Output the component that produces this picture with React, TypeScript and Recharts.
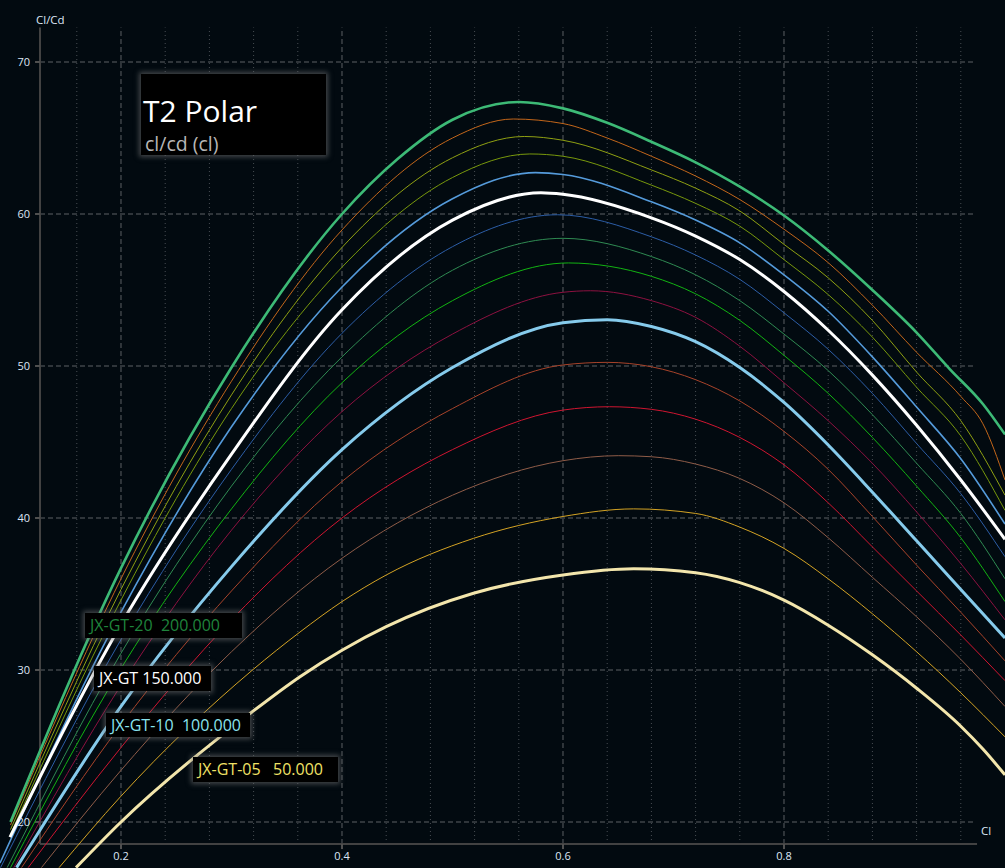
import { LineChart, Line, XAxis, YAxis, ReferenceLine } from 'recharts'

type Pt = [number, number]

const re200: Pt[] = [[0.1, 20.0], [0.2, 36.7], [0.3, 49.9], [0.4, 60.0], [0.45, 63.6], [0.5, 66.2], [0.56, 67.37], [0.6, 66.95], [0.64, 66.0], [0.68, 64.75], [0.72, 63.4], [0.76, 61.8], [0.8, 59.9], [0.84, 57.6], [0.88, 55.0], [0.92, 52.2], [0.95, 49.8], [0.98, 47.5], [1.0, 45.5]]
const re190: Pt[] = [[0.1, 19.8], [0.2, 36.0], [0.3, 49.0], [0.4, 58.95], [0.5, 65.0], [0.555, 66.25], [0.6, 65.95], [0.64, 65.0], [0.68, 63.8], [0.72, 62.5], [0.76, 60.95], [0.8, 59.0], [0.84, 56.8], [0.88, 54.0], [0.92, 50.9], [0.96, 48.0], [0.98, 46.2], [1.0, 42.5]]
const re180: Pt[] = [[0.1, 19.5], [0.2, 35.3], [0.3, 48.1], [0.4, 57.8], [0.5, 63.7], [0.565, 65.1], [0.6, 64.85], [0.68, 62.9], [0.72, 61.7], [0.76, 60.2], [0.8, 58.0], [0.84, 55.8], [0.88, 53.0], [0.92, 49.6], [0.96, 46.4], [1.0, 41.5]]
const re170: Pt[] = [[0.1, 19.2], [0.2, 34.6], [0.3, 47.2], [0.4, 56.5], [0.5, 62.4], [0.57, 63.95], [0.6, 63.8], [0.68, 61.9], [0.72, 60.7], [0.76, 59.2], [0.8, 57.0], [0.84, 54.7], [0.88, 51.9], [0.92, 48.6], [0.96, 45.4], [1.0, 40.5]]
const re160: Pt[] = [[0.0905, 17.3], [0.2, 33.8], [0.3, 46.0], [0.4, 55.2], [0.5, 61.0], [0.575, 62.72], [0.6, 62.6], [0.68, 60.8], [0.72, 59.6], [0.76, 58.1], [0.8, 56.0], [0.84, 53.6], [0.88, 50.6], [0.92, 47.3], [0.96, 43.9], [1.0, 39.6]]
const re150: Pt[] = [[0.0995, 19.0], [0.2, 33.0], [0.3, 44.2], [0.4, 53.7], [0.5, 59.6], [0.58, 61.4], [0.6, 61.3], [0.68, 59.75], [0.72, 58.55], [0.76, 57.0], [0.8, 54.9], [0.84, 52.35], [0.88, 49.4], [0.92, 46.1], [0.96, 42.5], [1.0, 38.6]]
const re140: Pt[] = [[0.091, 17.0], [0.2, 32.0], [0.3, 43.2], [0.4, 52.15], [0.5, 57.85], [0.595, 59.95], [0.68, 58.5], [0.72, 57.3], [0.76, 55.7], [0.8, 53.5], [0.84, 51.1], [0.88, 48.2], [0.92, 44.9], [0.96, 41.6], [1.0, 37.45]]
const re130: Pt[] = [[0.097, 17.0], [0.2, 31.1], [0.3, 42.1], [0.4, 50.6], [0.5, 56.3], [0.6, 58.4], [0.68, 57.2], [0.72, 56.0], [0.76, 54.3], [0.8, 52.1], [0.84, 49.7], [0.88, 46.8], [0.92, 43.6], [0.96, 40.3], [1.0, 36.0]]
const re120: Pt[] = [[0.1, 17.0], [0.2, 30.1], [0.3, 40.6], [0.4, 48.9], [0.5, 54.3], [0.605, 56.78], [0.68, 55.9], [0.72, 54.75], [0.76, 53.0], [0.8, 50.7], [0.84, 48.2], [0.88, 45.3], [0.92, 42.1], [0.96, 38.7], [1.0, 34.5]]
const re110: Pt[] = [[0.103, 17.0], [0.2, 29.0], [0.3, 39.2], [0.4, 47.0], [0.5, 52.1], [0.6, 54.85], [0.625, 54.95], [0.68, 54.3], [0.72, 53.2], [0.76, 51.3], [0.8, 48.9], [0.84, 46.4], [0.88, 43.6], [0.92, 40.4], [0.96, 37.0], [1.0, 33.3]]
const re100: Pt[] = [[0.1055, 17.0], [0.2, 27.6], [0.3, 36.8], [0.4, 44.5], [0.5, 49.9], [0.6, 52.85], [0.64, 53.05], [0.68, 52.6], [0.72, 51.6], [0.76, 49.9], [0.8, 47.6], [0.84, 44.8], [0.88, 41.7], [0.92, 38.5], [0.96, 35.3], [1.0, 32.1]]
const re90: Pt[] = [[0.11, 17.0], [0.2, 26.4], [0.3, 35.2], [0.4, 42.4], [0.5, 47.2], [0.6, 50.07], [0.64, 50.24], [0.68, 49.95], [0.72, 49.1], [0.76, 47.7], [0.8, 45.7], [0.84, 43.2], [0.88, 40.1], [0.92, 36.9], [0.96, 33.8], [1.0, 30.6]]
const re80: Pt[] = [[0.116, 17.0], [0.2, 24.9], [0.3, 33.3], [0.4, 40.0], [0.5, 44.5], [0.6, 47.1], [0.642, 47.32], [0.68, 47.15], [0.72, 46.5], [0.76, 45.3], [0.8, 43.5], [0.84, 41.0], [0.88, 38.1], [0.92, 35.2], [0.96, 32.3], [1.0, 29.3]]
const re70: Pt[] = [[0.128, 17.0], [0.2, 23.4], [0.3, 31.2], [0.4, 37.35], [0.5, 41.5], [0.6, 43.77], [0.65, 44.1], [0.68, 44.03], [0.72, 43.55], [0.76, 42.6], [0.8, 41.0], [0.84, 38.7], [0.88, 36.1], [0.92, 33.5], [0.96, 30.7], [1.0, 27.6]]
const re60: Pt[] = [[0.144, 17.0], [0.2, 21.7], [0.319, 30.0], [0.362, 32.5], [0.4, 34.5], [0.44, 36.25], [0.519, 38.66], [0.6, 40.1], [0.664, 40.6], [0.72, 40.3], [0.76, 39.4], [0.8, 38.0], [0.84, 36.0], [0.88, 33.7], [0.92, 31.2], [0.96, 28.5], [1.0, 25.6]]
const re50: Pt[] = [[0.1593, 17.0], [0.2, 20.0], [0.317, 27.15], [0.362, 29.56], [0.4, 31.3], [0.44, 32.85], [0.519, 35.05], [0.6, 36.25], [0.664, 36.66], [0.72, 36.4], [0.76, 35.75], [0.8, 34.6], [0.84, 32.95], [0.88, 31.0], [0.92, 28.8], [0.96, 26.3], [0.98, 24.8], [1.0, 23.1]]

const Y_TICKS = [20, 30, 40, 50, 60, 70]
const X_TICKS = [0.2, 0.4, 0.6, 0.8]
const X_MINOR = [0.16, 0.24, 0.28, 0.32, 0.36, 0.44, 0.48, 0.52, 0.56, 0.64, 0.68, 0.72, 0.76, 0.84, 0.88, 0.92, 0.96]

const LEGEND = [
  { text: 'JX-GT-20  200.000', color: '#1f843c' },
  { text: 'JX-GT 150.000', color: '#ffffff' },
  { text: 'JX-GT-10  100.000', color: '#8ae4ee' },
  { text: 'JX-GT-05   50.000', color: '#f0e266' },
]

// draw order: bottom curve first
const SERIES = [
  { name: 'JX-GT-05 50.000', pts: re50, color: '#f3e6ac', width: 3 },
  { name: '60.000', pts: re60, color: '#d4a324', width: 1 },
  { name: '70.000', pts: re70, color: '#8f5c48', width: 1 },
  { name: '80.000', pts: re80, color: '#cf1530', width: 1 },
  { name: '90.000', pts: re90, color: '#a8432a', width: 1 },
  { name: 'JX-GT-10 100.000', pts: re100, color: '#86cbec', width: 3 },
  { name: '110.000', pts: re110, color: '#8d1140', width: 1 },
  { name: '120.000', pts: re120, color: '#12b312', width: 1 },
  { name: '130.000', pts: re130, color: '#2f8a52', width: 1 },
  { name: '140.000', pts: re140, color: '#2c5da6', width: 1 },
  { name: '160.000', pts: re160, color: '#559bdb', width: 1.6 },
  { name: '170.000', pts: re170, color: '#78980c', width: 1 },
  { name: '180.000', pts: re180, color: '#8fa012', width: 1 },
  { name: '190.000', pts: re190, color: '#c3661a', width: 1 },
  { name: 'JX-GT 150.000', pts: re150, color: '#ffffff', width: 3 },
  { name: 'JX-GT-20 200.000', pts: re200, color: '#3dba76', width: 2.6 },
]

const W = 1005
const H = 868
const BG = '#020a10'
const X_DOMAIN: [number, number] = [0.0905, 1.0]
const Y_DOMAIN: [number, number] = [16.974, 74.079]
const AXIS_X = 0.1267
const AXIS_Y = 18.553
const TOP_Y = 72.27
const GRID_RIGHT = 0.9729
const AXIS_RIGHT = 0.9747
const TICK_X = 0.1222
const TICK_Y = 18.22
const TEXT = '#dde6f4'

const LEGEND_BOX = [
  { left: 85, top: 613, width: 157, height: 25 },
  { left: 94, top: 666, width: 117, height: 25 },
  { left: 106, top: 713, width: 144, height: 24 },
  { left: 193, top: 757, width: 145, height: 25 },
]

const glow = '0 0 5px 2px rgba(120,120,120,0.55)'

export default function App() {
  return (
    <div style={{ position: 'relative', width: W, height: H, background: BG, overflow: 'hidden', fontFamily: '"Open Sans", sans-serif' }}>
      <style>{'body{margin:0}'}</style>
      <LineChart width={W} height={H} margin={{ top: 0, right: 0, bottom: 0, left: 0 }}>
        <XAxis type="number" dataKey="cl" domain={X_DOMAIN} allowDataOverflow hide />
        <YAxis type="number" domain={Y_DOMAIN} allowDataOverflow hide />

        {X_MINOR.map((x) => (
          <ReferenceLine key={'mx' + x} segment={[{ x, y: AXIS_Y }, { x, y: TOP_Y }]} stroke="#4a4f55" strokeDasharray="1 3" ifOverflow="visible" zIndex={-100} />
        ))}
        {X_TICKS.map((x) => (
          <ReferenceLine key={'gx' + x} segment={[{ x, y: AXIS_Y }, { x, y: TOP_Y }]} stroke="#5c6064" strokeDasharray="5 3" ifOverflow="visible" zIndex={-100} />
        ))}
        {Y_TICKS.map((y) => (
          <ReferenceLine key={'gy' + y} segment={[{ x: AXIS_X, y }, { x: GRID_RIGHT, y }]} stroke="#5c6064" strokeDasharray="5 3" ifOverflow="visible" zIndex={-100} />
        ))}

        <ReferenceLine segment={[{ x: AXIS_X, y: AXIS_Y }, { x: AXIS_X, y: TOP_Y }]} stroke="#424242" strokeWidth={2} ifOverflow="visible" zIndex={-90} />
        <ReferenceLine segment={[{ x: AXIS_X, y: AXIS_Y }, { x: AXIS_RIGHT, y: AXIS_Y }]} stroke="#424242" strokeWidth={2} ifOverflow="visible" zIndex={-90} />

        {Y_TICKS.map((y) => (
          <ReferenceLine key={'ty' + y} segment={[{ x: TICK_X, y }, { x: AXIS_X, y }]} stroke="#505050" strokeWidth={2} ifOverflow="visible" zIndex={-90}
            label={{ value: String(y), position: 'left', offset: 5, fill: TEXT, fontSize: 11 }} />
        ))}
        {X_TICKS.map((x) => (
          <ReferenceLine key={'tx' + x} segment={[{ x, y: AXIS_Y }, { x, y: TICK_Y }]} stroke="#505050" strokeWidth={2} ifOverflow="visible" zIndex={-90}
            label={{ value: String(x), position: 'bottom', offset: 3, fill: TEXT, fontSize: 11 }} />
        ))}

        {SERIES.map((s) => (
          <Line
            key={s.name}
            name={s.name}
            data={s.pts.map(([cl, v]) => ({ cl, v }))}
            dataKey="v"
            type="monotone"
            stroke={s.color}
            strokeWidth={s.width}
            dot={false}
            activeDot={false}
            isAnimationActive={false}
          />
        ))}
      </LineChart>

      <div style={{ position: 'absolute', left: 36, top: 13.5, fontSize: 11.5, lineHeight: 1, color: TEXT }}>Cl/Cd</div>
      <div style={{ position: 'absolute', left: 981, top: 824.8, fontSize: 11.5, lineHeight: 1, color: TEXT }}>Cl</div>

      <div style={{ position: 'absolute', left: 141, top: 74, width: 185, height: 81, background: '#000', boxShadow: glow }}>
        <div style={{ position: 'absolute', left: 2, top: 22.4, fontSize: 30, lineHeight: 1, color: '#ffffff', whiteSpace: 'pre' }}>T2 Polar</div>
        <div style={{ position: 'absolute', left: 4, top: 59.5, fontSize: 19.5, lineHeight: 1, color: '#b6b6b6', whiteSpace: 'pre' }}>cl/cd (cl)</div>
      </div>

      {LEGEND.map((l, i) => {
        const b = LEGEND_BOX[i]
        return (
          <div key={l.text} style={{ position: 'absolute', left: b.left, top: b.top, width: b.width, height: b.height, background: '#000', boxShadow: glow, boxSizing: 'border-box', paddingLeft: 5, fontSize: 16, lineHeight: b.height + 'px', color: l.color, whiteSpace: 'pre' }}>
            {l.text}
          </div>
        )
      })}
    </div>
  )
}
